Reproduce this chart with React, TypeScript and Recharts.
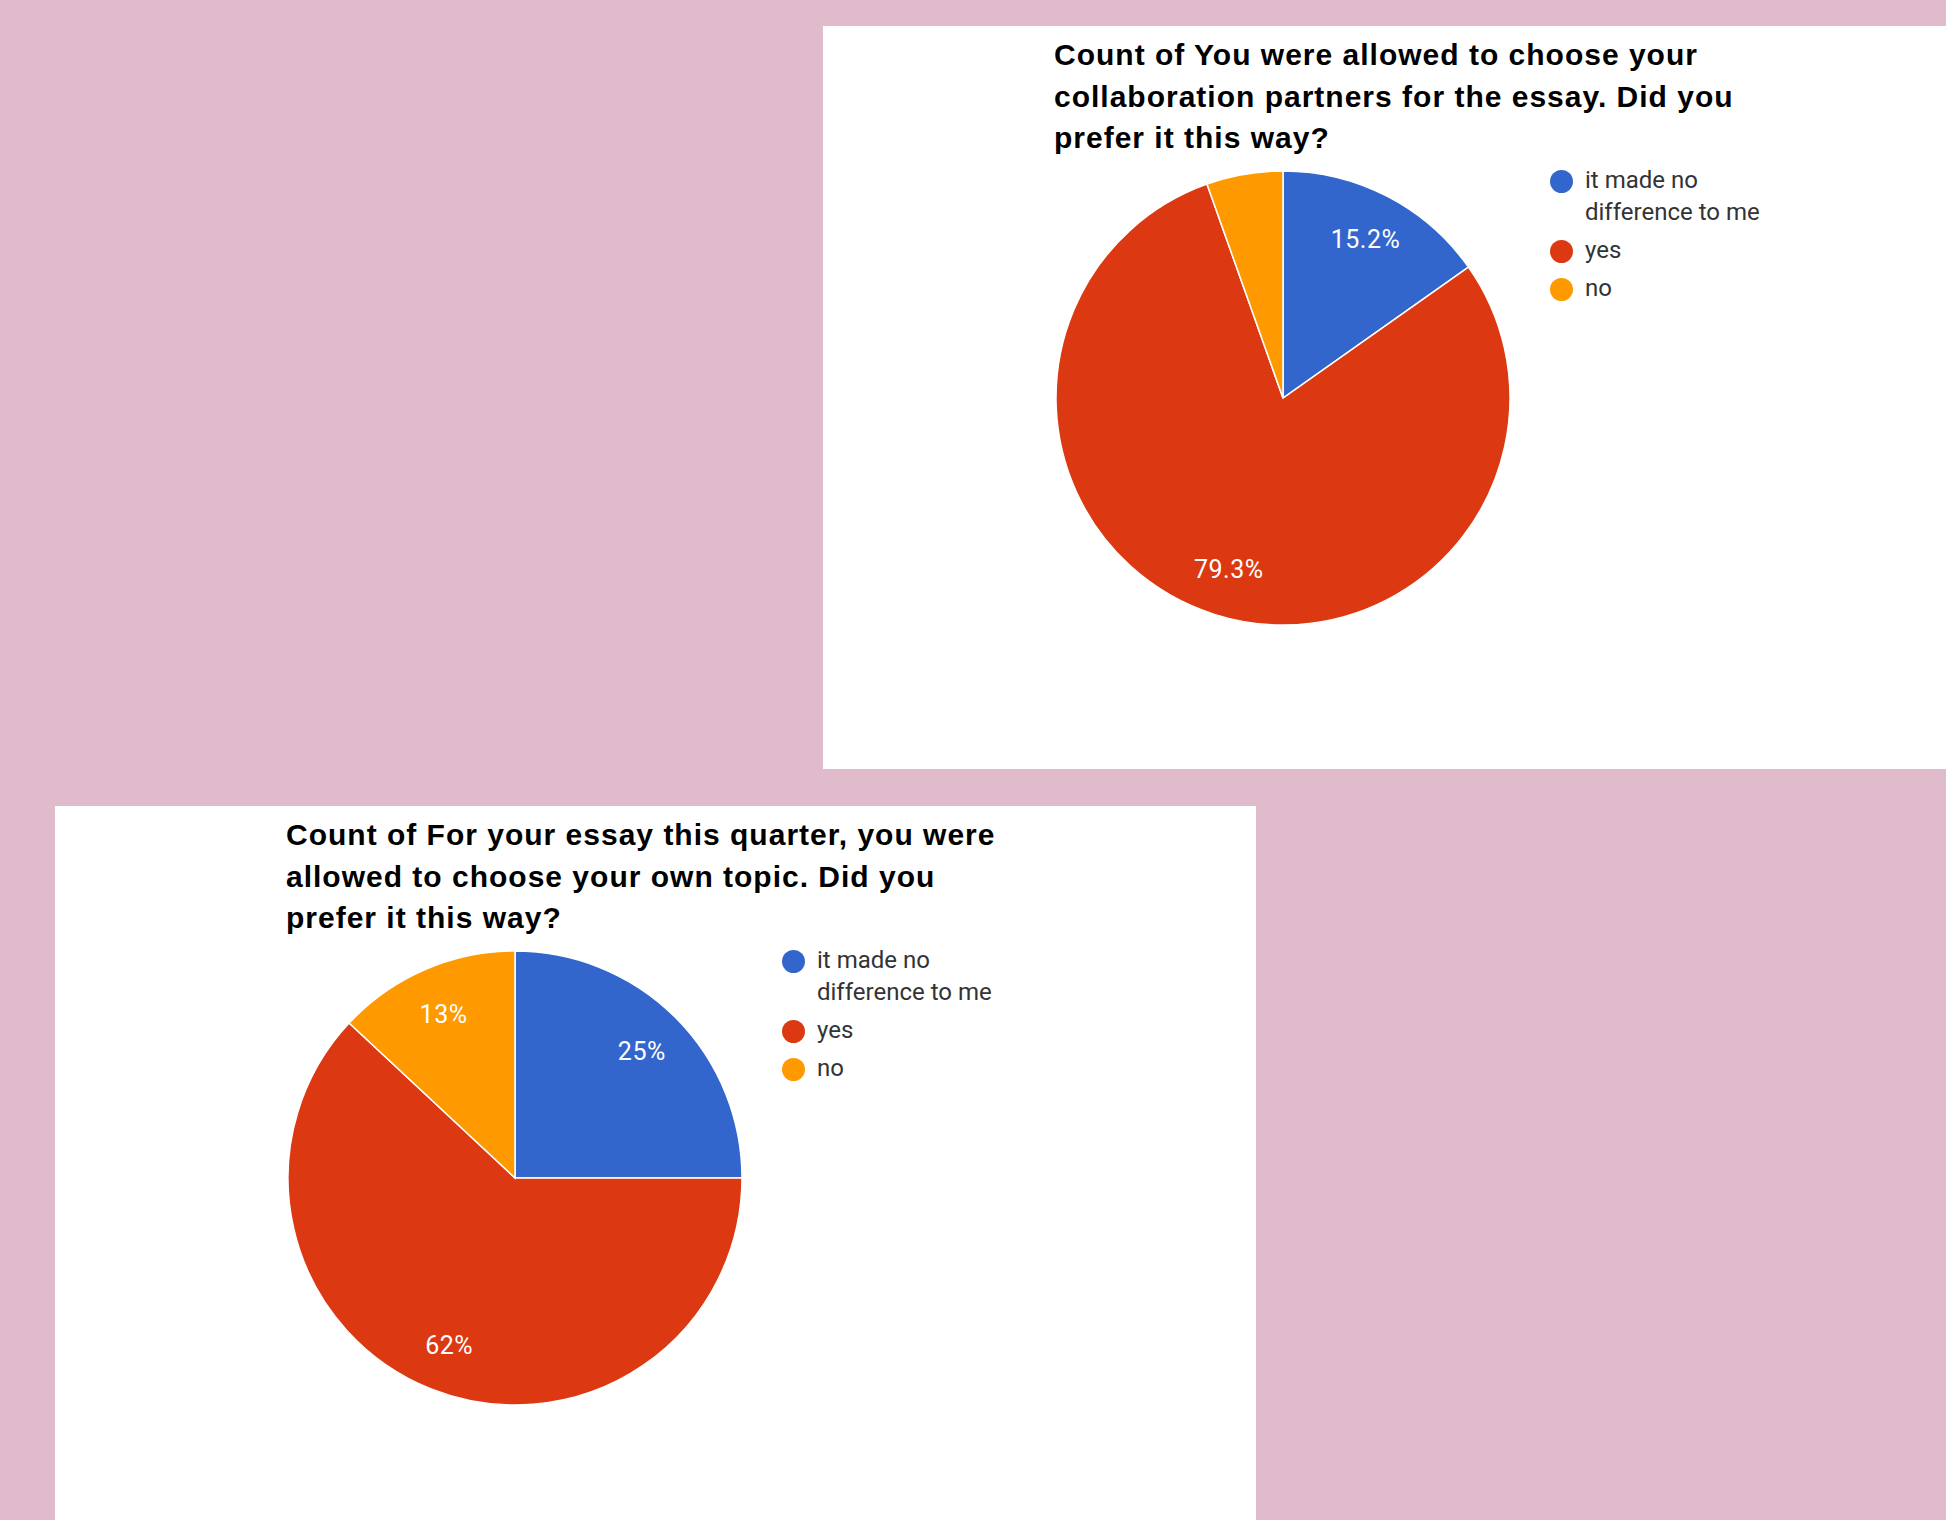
import { PieChart, Pie, Legend } from "recharts";

const categories = ["it made no difference to me", "yes", "no"];
const sliceColors = ["#3366cc", "#dc3912", "#ff9900"];

// counts of answers (92 responses each)
const partnersCounts = [14, 73, 5];
const topicCounts = [23, 57, 12];

const partnersTitle = [
    "Count of You were allowed to choose your",
    "collaboration partners for the essay. Did you",
    "prefer it this way?",
];
const topicTitle = [
    "Count of For your essay this quarter, you were",
    "allowed to choose your own topic. Did you",
    "prefer it this way?",
];

const RADIAN = Math.PI / 180;

const formatPct = (p: number) => `${parseFloat((p * 100).toFixed(1))}%`;

const renderLabel = (props: any) => {
    const { cx, cy, midAngle, outerRadius, percent, index } = props;
    if (percent < 0.07) return null;
    const r = outerRadius * 0.79;
    const x = cx + r * Math.cos(-midAngle * RADIAN);
    const y = cy + r * Math.sin(-midAngle * RADIAN);
    return (
        <text
            key={`lbl-${index}`}
            x={x}
            y={y + 9}
            fill="#ffffff"
            textAnchor="middle"
            fontFamily="Roboto, sans-serif"
            fontSize={25}
            letterSpacing={0.5}
        >
            {formatPct(percent)}
        </text>
    );
};

const renderLegend = (props: any) => {
    // keep the order of the data, not alphabetical
    const items = [...(props.payload || [])].sort(
        (a: any, b: any) => categories.indexOf(a.value) - categories.indexOf(b.value)
    );
    return (
        <div style={{ fontFamily: "Roboto, sans-serif", fontSize: 24, lineHeight: "32px", color: "#333" }}>
            {items.map((item: any, i: number) => (
                <div key={`leg-${i}`} style={{ display: "flex", alignItems: "flex-start", marginBottom: 6 }}>
                    <span
                        style={{
                            width: 23,
                            height: 23,
                            borderRadius: "50%",
                            background: item.color ?? item.payload?.fill,
                            marginTop: 6,
                            marginRight: 12,
                            flex: "none",
                        }}
                    />
                    <span style={{ width: 190 }}>{item.value}</span>
                </div>
            ))}
        </div>
    );
};

interface PanelProps {
    left: number;
    top: number;
    width: number;
    height: number;
    title: string[];
    counts: number[];
}

const PiePanel = ({ left, top, width, height, title, counts }: PanelProps) => {
    const data = categories.map((name, i) => ({ name, count: counts[i], fill: sliceColors[i] }));
    return (
        <div style={{ position: "absolute", left, top, width, height, background: "#ffffff" }}>
            <PieChart width={width} height={height} margin={{ top: 0, right: 0, bottom: 0, left: 0 }}>
                <Pie
                    data={data}
                    dataKey="count"
                    nameKey="name"
                    cx={460}
                    cy={372}
                    outerRadius={227}
                    startAngle={90}
                    endAngle={-270}
                    stroke="#ffffff"
                    strokeWidth={1.5}
                    label={renderLabel}
                    labelLine={false}
                    isAnimationActive={false}
                />
                <Legend
                    content={renderLegend}
                    wrapperStyle={{ left: 727, top: 138, width: 260, bottom: "auto" }}
                />
            </PieChart>
            <div
                style={{
                    position: "absolute",
                    left: 231,
                    top: 8,
                    fontFamily: '"Liberation Sans", Arial, sans-serif',
                    fontWeight: "bold",
                    fontSize: 30,
                    letterSpacing: 1,
                    lineHeight: "41.5px",
                    color: "#000",
                    whiteSpace: "nowrap",
                }}
            >
                {title.map((line, i) => (
                    <div key={i}>{line}</div>
                ))}
            </div>
        </div>
    );
};

export default function App() {
    return (
        <div
            style={{
                position: "absolute",
                left: 0,
                top: 0,
                width: 1946,
                height: 1520,
                background: "#dfbbcc",
                overflow: "hidden",
            }}
        >
            <PiePanel left={823} top={26} width={1123} height={743} title={partnersTitle} counts={partnersCounts} />
            <PiePanel left={55} top={806} width={1201} height={714} title={topicTitle} counts={topicCounts} />
        </div>
    );
}
